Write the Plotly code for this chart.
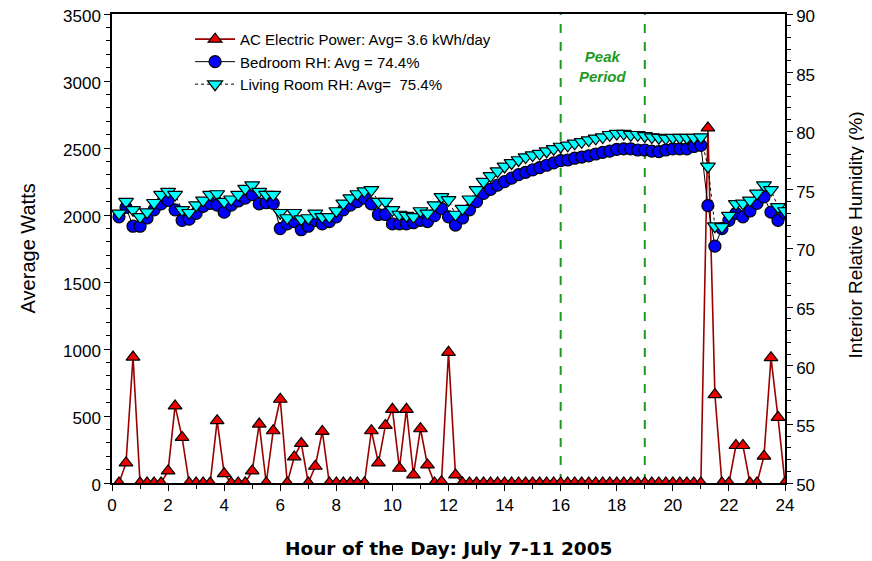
import numpy as np
import plotly.graph_objects as go

# Hour of day (15-minute samples)
hours = np.round(np.arange(0.25, 24.001, 0.25), 2).tolist()

ac_power_w = [
    0, 150, 940, 0, 0, 0, 0, 90, 575, 340, 0, 0,
    0, 0, 465, 70, 0, 0, 0, 90, 440, 0, 390, 625,
    0, 195, 295, 0, 125, 385, 0, 0, 0, 0, 0, 0,
    390, 150, 430, 550, 110, 550, 60, 405, 135, 0, 10, 975,
    60, 0, 0, 0, 0, 0, 0, 0, 0, 0, 0, 0,
    0, 0, 0, 0, 0, 0, 0, 0, 0, 0, 0, 0,
    0, 0, 0, 0, 0, 0, 0, 0, 0, 0, 0, 0,
    2650, 660, 0, 0, 280, 280, 0, 0, 200, 935, 490, 0,
]

bedroom_rh = [
    72.7, 73.5, 71.9, 71.9, 72.6, 73.3, 73.8, 74.1, 73.3, 72.4, 72.5, 73.0,
    73.6, 73.85, 73.7, 73.1, 73.7, 74.05, 74.3, 74.6, 73.8, 73.9, 73.85, 71.7,
    72.1, 72.3, 71.6, 71.9, 72.4, 72.1, 72.3, 72.7, 73.3, 73.7, 74.0, 74.3,
    73.8, 72.9, 72.9, 72.1, 72.1, 72.1, 72.2, 72.4, 72.3, 72.8, 73.4, 72.7,
    72.0, 72.6, 73.3, 74.0, 74.7, 75.05, 75.4, 75.7, 76.0, 76.3, 76.5, 76.7,
    76.9, 77.1, 77.3, 77.5, 77.55, 77.7, 77.8, 77.9, 78.06, 78.2, 78.3, 78.46,
    78.5, 78.5, 78.4, 78.4, 78.3, 78.26, 78.4, 78.5, 78.5, 78.5, 78.7, 78.8,
    73.65, 70.2, 71.7, 72.4, 73.0, 72.7, 73.2, 73.85, 74.4, 73.1, 72.4, 73.0,
]

living_rh = [
    73.0, 74.0, 73.3, 72.7, 73.1, 73.9, 74.6, 74.85, 74.6, 73.3, 73.05, 73.7,
    74.1, 74.6, 74.65, 74.0, 74.2, 74.6, 75.1, 75.4, 74.85, 74.6, 74.6, 73.05,
    72.6, 73.05, 72.5, 72.6, 73.0, 72.7, 72.7, 73.2, 73.85, 74.3, 74.65, 74.9,
    75.0, 74.0, 74.0, 73.3, 72.9, 72.8, 72.7, 73.2, 73.0, 73.7, 74.4, 74.15,
    72.9, 73.4, 74.2, 75.0, 75.7, 76.2, 76.6, 77.0, 77.3, 77.55, 77.8, 77.97,
    78.1, 78.3, 78.5, 78.7, 78.8, 78.97, 79.1, 79.25, 79.4, 79.5, 79.7, 79.8,
    79.8, 79.7, 79.7, 79.6, 79.5, 79.45, 79.4, 79.45, 79.45, 79.45, 79.45, 79.5,
    77.0, 71.9, 71.85, 72.8, 73.8, 73.85, 74.1, 74.7, 75.4, 75.0, 73.55, 73.2,
]

series_names = [
    "AC Electric Power: Avg= 3.6 kWh/day",
    "Bedroom RH: Avg = 74.4%",
    "Living Room RH: Avg=  75.4%",
]
peak_period = [16, 19]
peak_label = "Peak<br>Period"
x_title = "Hour of the Day: July 7-11 2005"
y_title = "Average Watts"
y2_title = "Interior Relative Humidity (%)"

x_ticks = list(range(0, 25, 2))
watt_ticks = list(range(0, 3501, 500))
rh_ticks = list(range(50, 91, 5))

FONT = "Arial, Liberation Sans, sans-serif"
WIDE = "DejaVu Sans, Verdana, sans-serif"
GREEN = "#1f9a1f"
TICKFONT = dict(family=FONT, size=17, color="black")

fig = go.Figure()

fig.add_trace(go.Scatter(
    x=hours, y=ac_power_w, name=series_names[0], mode="lines+markers",
    line=dict(color="#990000", width=1.6),
    marker=dict(symbol="triangle-up", size=12, color="#ee0000",
                line=dict(color="black", width=1.2)),
    yaxis="y",
))
fig.add_trace(go.Scatter(
    x=hours, y=bedroom_rh, name=series_names[1], mode="lines+markers",
    line=dict(color="black", width=1),
    marker=dict(symbol="circle", size=12, color="#0000ff",
                line=dict(color="black", width=1.2)),
    yaxis="y2",
))
fig.add_trace(go.Scatter(
    x=hours, y=living_rh, name=series_names[2], mode="lines+markers",
    line=dict(color="black", width=1, dash="dot"),
    marker=dict(symbol="triangle-down", size=13, color="#00ffff",
                line=dict(color="black", width=1.2)),
    yaxis="y2",
))

for px in peak_period:
    fig.add_shape(type="line", x0=px, x1=px, y0=0, y1=1, xref="x", yref="paper",
                  line=dict(color=GREEN, width=2, dash="dash"), layer="below")

fig.add_annotation(
    x=sum(peak_period) / 2, y=0.932, xref="x", yref="paper",
    text="<b><i>" + peak_label + "</i></b>", showarrow=False,
    font=dict(family=FONT, size=15, color=GREEN), align="center",
)

# axis titles
fig.add_annotation(x=0.5, y=-0.139, xref="paper", yref="paper", showarrow=False,
                   text="<b>" + x_title + "</b>", xanchor="center", yanchor="middle",
                   font=dict(family=WIDE, size=18.5, color="black"))
fig.add_annotation(x=-0.125, y=0.5, xref="paper", yref="paper", showarrow=False,
                   text=y_title, textangle=-90, xanchor="center", yanchor="middle",
                   font=dict(family=FONT, size=20, color="black"))
fig.add_annotation(x=1.104, y=0.53, xref="paper", yref="paper", showarrow=False,
                   text=y2_title, textangle=-90, xanchor="center", yanchor="middle",
                   font=dict(family=FONT, size=19, color="black"))

fig.update_layout(
    width=872, height=561,
    margin=dict(l=104, r=95, t=6, b=86, autoexpand=False),
    paper_bgcolor="white", plot_bgcolor="white",
    font=dict(family=FONT, size=15, color="black"),
    showlegend=True,
    legend=dict(x=0.116, y=0.981, xanchor="left", yanchor="top",
                bgcolor="rgba(0,0,0,0)", font=dict(family=FONT, size=15),
                tracegroupgap=0, itemwidth=40),
    xaxis=dict(
        range=[0, 24], tickvals=x_ticks, ticks="outside", ticklen=6,
        tickwidth=1.2, tickcolor="black", tickfont=TICKFONT, automargin=False,
        ticklabeloverflow="allow",
        minor=dict(dtick=1, ticks="outside", ticklen=4, tickcolor="black"),
        showline=True, linecolor="black", linewidth=1.5, mirror=True,
        showgrid=False, zeroline=False,
    ),
    yaxis=dict(
        range=[0, 3500], tickvals=watt_ticks, ticks="outside", ticklen=6,
        tickwidth=1.2, tickcolor="black", tickfont=TICKFONT, automargin=False,
        ticklabeloverflow="allow", ticklabelshift=2,
        minor=dict(dtick=100, ticks="outside", ticklen=4, tickcolor="black"),
        showline=True, linecolor="black", linewidth=1.5, mirror=True,
        showgrid=False, zeroline=False,
    ),
    yaxis2=dict(
        range=[50, 90], tickvals=rh_ticks, overlaying="y", side="right",
        ticks="outside", ticklen=6, tickwidth=1.2, tickcolor="black",
        tickfont=TICKFONT, automargin=False, ticklabeloverflow="allow",
        ticklabelshift=2,
        minor=dict(dtick=1, ticks="outside", ticklen=4, tickcolor="black"),
        showline=True, linecolor="black", linewidth=1.5,
        showgrid=False, zeroline=False,
    ),
)

fig.write_html("out.html")
